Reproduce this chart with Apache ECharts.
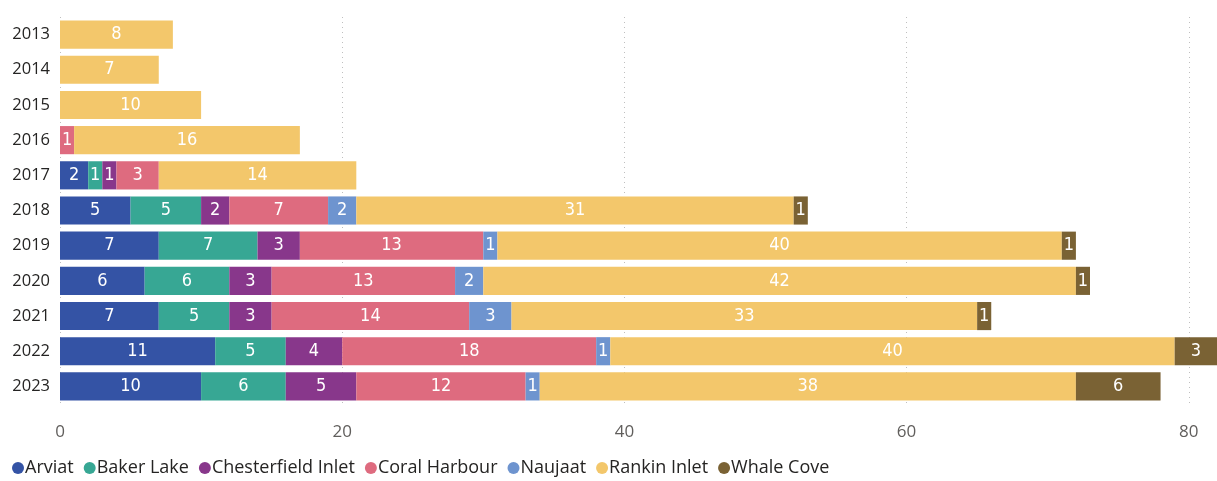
<!DOCTYPE html>
<html><head><meta charset="utf-8">
<script src="https://cdn.jsdelivr.net/npm/echarts@6/dist/echarts.min.js"></script>
<style>html,body{margin:0;padding:0;background:#fff}#c{width:1217px;height:481px}</style>
</head><body><div id="c"></div>
<script>
const years = ['2013','2014','2015','2016','2017','2018','2019','2020','2021','2022','2023'];
const seriesNames = ['Arviat','Baker Lake','Chesterfield Inlet','Coral Harbour','Naujaat','Rankin Inlet','Whale Cove'];
const arviat      = [null,null,null,null,2,5,7,6,7,11,10];
const bakerLake   = [null,null,null,null,1,5,7,6,5,5,6];
const chesterfield= [null,null,null,null,1,2,3,3,3,4,5];
const coralHarbour= [null,null,null,1,3,7,13,13,14,18,12];
const naujaat     = [null,null,null,null,null,2,1,2,3,1,1];
const rankinInlet = [8,7,10,16,14,31,40,42,33,40,38];
const whaleCove   = [null,null,null,null,null,1,1,1,1,3,6];
const xTicks = [0,20,40,60,80];
const colors = ['#3453A5','#37A794','#88378B','#DE6B7F','#6E94CF','#F3C76B','#7A6234'];

const dataSets = [arviat,bakerLake,chesterfield,coralHarbour,naujaat,rankinInlet,whaleCove];
const chart = echarts.init(document.getElementById('c'));
chart.setOption({
  animation:false,
  color: colors,
  grid:{left:60,right:0,top:17,bottom:77},
  legend:{
    left:7, top:454, icon:'circle', itemWidth:12, itemHeight:12, itemGap:10,
    textStyle:{fontFamily:'Open Sans',fontSize:18,color:'#252423',padding:[0,0,0,-4]},
    data: seriesNames
  },
  xAxis:{
    type:'value', min:0, max:82, interval:20,
    axisLine:{show:false}, axisTick:{show:false},
    axisLabel:{showMaxLabel:false,fontFamily:'Open Sans',fontSize:17,color:'#605E5C',margin:20,
      formatter:v=>xTicks.includes(v)?String(v):''},
    splitLine:{show:true,lineStyle:{type:[1,4],color:'#BFBFBF',width:1}}
  },
  yAxis:{
    type:'category', data:years, inverse:true,
    axisLine:{show:false}, axisTick:{show:false},
    axisLabel:{fontFamily:'Open Sans',fontSize:16.5,color:'#252423',margin:10}
  },
  series: seriesNames.map((n,i)=>({
    name:n, type:'bar', stack:'total', barCategoryGap:'20%',
    data: dataSets[i],
    label:{show:true,position:'inside',color:'#fff',fontFamily:'DejaVu Sans Condensed',fontSize:18},
    itemStyle:{color:colors[i]}
  }))
});
</script></body></html>
